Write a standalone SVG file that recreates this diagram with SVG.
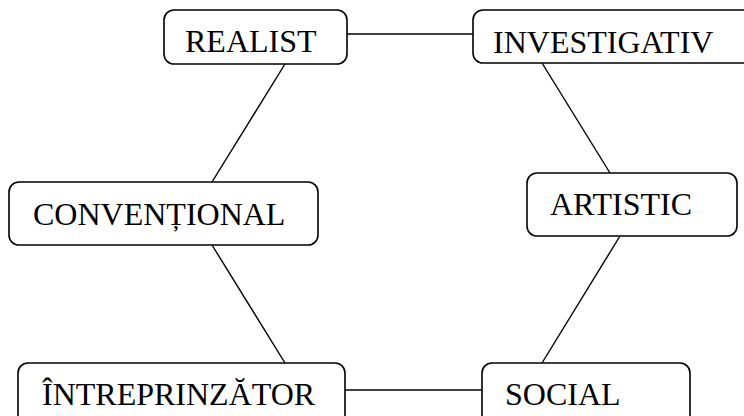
<svg xmlns="http://www.w3.org/2000/svg" width="744" height="416" viewBox="0 0 744 416">
  <style>
    .box { fill: #ffffff; stroke: #000000; stroke-width: 1.6; }
    .label { font-family: "Liberation Serif", "Times New Roman", serif; font-size: 32px; fill: #000000; }
    .link { stroke: #000000; stroke-width: 1.4; fill: none; }
  </style>
  <rect width="744" height="416" fill="#ffffff"/>

  <g id="connectors">
    <line class="link" x1="347" y1="34" x2="473" y2="34"/>
    <line class="link" x1="285" y1="64" x2="212" y2="182"/>
    <line class="link" x1="212" y1="245" x2="285" y2="363"/>
    <line class="link" x1="542" y1="63" x2="610" y2="173"/>
    <line class="link" x1="620" y1="236" x2="542" y2="363"/>
    <line class="link" x1="345" y1="390" x2="482" y2="390"/>
  </g>

  <g id="realist">
    <rect class="box" x="164" y="10" width="183" height="54" rx="10"/>
    <text class="label" x="185" y="52">REALIST</text>
  </g>

  <g id="investigativ">
    <rect class="box" x="473" y="10" width="290" height="53" rx="10"/>
    <text class="label" x="493" y="53">INVESTIGATIV</text>
  </g>

  <g id="conventional">
    <rect class="box" x="9" y="182" width="309" height="63" rx="10"/>
    <text class="label" x="33" y="225">CONVENȚIONAL</text>
  </g>

  <g id="artistic">
    <rect class="box" x="527" y="173" width="210" height="63" rx="10"/>
    <text class="label" x="550" y="215">ARTISTIC</text>
  </g>

  <g id="intreprinzator">
    <rect class="box" x="18" y="363" width="327" height="70" rx="10"/>
    <text class="label" x="42" y="405">ÎNTREPRINZĂTOR</text>
  </g>

  <g id="social">
    <rect class="box" x="482" y="363" width="208" height="70" rx="10"/>
    <text class="label" x="505" y="405">SOCIAL</text>
  </g>
</svg>
